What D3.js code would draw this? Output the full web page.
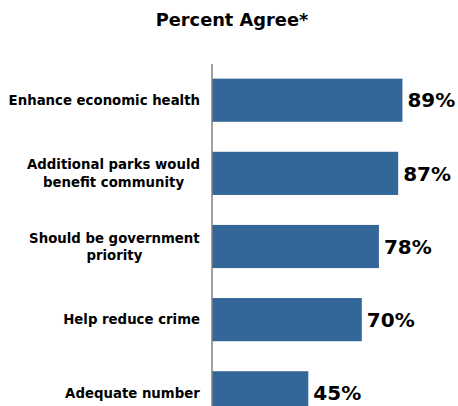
<!doctype html>
<html>
<head>
<meta charset="UTF-8">
<title>Percent Agree</title>
<script src="https://d3js.org/d3.v7.min.js"></script>
<style>
  body { margin: 0; background: #fff; }
  text { font-family: "DejaVu Sans", Verdana, sans-serif; font-weight: bold; fill: #000; }
</style>
</head>
<body>
<div id="chart"></div>
<script>
// data
var categories = [
  ["Enhance economic health"],
  ["Additional parks would", "benefit community"],
  ["Should be government", "priority"],
  ["Help reduce crime"],
  ["Adequate number"]
];
var values = [89, 87, 78, 70, 45];
var title = "Percent Agree*";

var width = 458, height = 406;

var svg = d3.select("#chart").append("svg")
    .attr("width", width)
    .attr("height", height);

var x = d3.scaleLinear().domain([0, 100]).range([212, 426]);
var y = d3.scaleBand()
    .domain(d3.range(values.length))
    .range([64, 429])
    .paddingInner(0.41)
    .paddingOuter(0.2);

svg.append("text")
    .attr("x", 232)
    .attr("y", 26)
    .attr("text-anchor", "middle")
    .style("font-size", "17.8px")
    .text(title);

svg.selectAll("rect.bar")
    .data(values)
    .enter().append("rect")
    .attr("class", "bar")
    .attr("x", x(0))
    .attr("y", function(d, i) { return y(i); })
    .attr("width", function(d) { return x(d) - x(0); })
    .attr("height", y.bandwidth())
    .attr("fill", "#336699");

// axis line
svg.append("line")
    .attr("x1", x(0)).attr("x2", x(0))
    .attr("y1", 64).attr("y2", height)
    .attr("stroke", "#808080")
    .attr("stroke-width", 1.5);

svg.selectAll("text.val")
    .data(values)
    .enter().append("text")
    .attr("class", "val")
    .attr("x", function(d) { return x(d) + 5; })
    .attr("y", function(d, i) { return y(i) + y.bandwidth() / 2; })
    .attr("dy", "0.36em")
    .style("font-size", "20px")
    .text(function(d) { return d + "%"; });

var labels = svg.selectAll("text.cat")
    .data(categories)
    .enter().append("text")
    .attr("class", "cat")
    .attr("text-anchor", "middle")
    .style("font-size", "13.3px")
    .attr("y", function(d, i) { return y(i) + y.bandwidth() / 2; });

labels.each(function(lines) {
  var t = d3.select(this);
  var n = lines.length;
  lines.forEach(function(line, k) {
    t.append("tspan")
      .attr("x", 0)
      .attr("dy", k === 0 ? ((-(n - 1) / 2) * 1.32 + 0.36) + "em" : "1.32em")
      .text(line);
  });
});

// right-align the block of each label to x=200, lines centred within it
labels.each(function() {
  var t = d3.select(this);
  var w = this.getBBox().width;
  t.selectAll("tspan").attr("x", 200 - w / 2);
});
</script>
</body>
</html>
